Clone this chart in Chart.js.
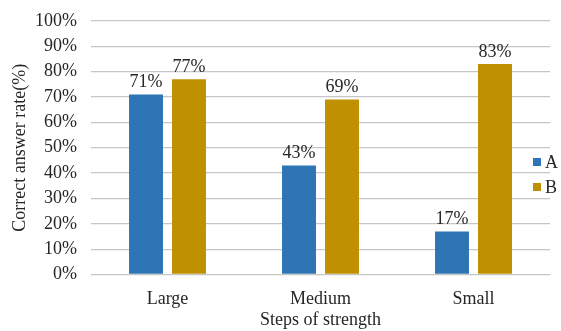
<!DOCTYPE html>
<html>
<head>
<meta charset="utf-8">
<script src="https://cdn.jsdelivr.net/npm/chart.js@4/dist/chart.umd.min.js"></script>
<style>
  html, body { margin: 0; padding: 0; background: #fff; }
  #wrap { position: relative; width: 561px; height: 331px; }
</style>
</head>
<body>
<div id="wrap"><canvas id="c" width="561" height="331"></canvas></div>
<script>
// Correct answer rate by step of strength, two conditions
const categories = ['Large', 'Medium', 'Small'];
const seriesNames = ['A', 'B'];
const seriesA = [71, 43, 17];
const seriesB = [77, 69, 83];
const yTicks = [0, 10, 20, 30, 40, 50, 60, 70, 80, 90, 100];

const FONT = '"Liberation Serif", "Times New Roman", serif';
const TEXT = '#262626';
const colors = ['#2E75B6', '#BF9000'];

// Value labels above each bar
const valueLabels = {
  id: 'valueLabels',
  afterDatasetsDraw(chart) {
    const ctx = chart.ctx;
    ctx.save();
    ctx.font = '18px ' + FONT;
    ctx.fillStyle = TEXT;
    ctx.textAlign = 'center';
    ctx.textBaseline = 'bottom';
    chart.data.datasets.forEach((ds, i) => {
      chart.getDatasetMeta(i).data.forEach((bar, j) => {
        ctx.fillText(ds.data[j] + '%', bar.x, bar.y - 3);
      });
    });
    ctx.restore();
  }
};

// Legend drawn inside the right edge of the plot
const sideLegend = {
  id: 'sideLegend',
  afterDraw(chart) {
    const ctx = chart.ctx;
    const x = 533, y0 = 162, step = 25;
    ctx.save();
    ctx.font = '18px ' + FONT;
    ctx.textBaseline = 'middle';
    ctx.textAlign = 'left';
    chart.data.datasets.forEach((ds, i) => {
      const y = y0 + i * step;
      ctx.fillStyle = ds.backgroundColor;
      ctx.fillRect(x, y - 4, 8, 8);
      ctx.fillStyle = TEXT;
      ctx.fillText(ds.label, x + 12, y + 1);
    });
    ctx.restore();
  }
};

new Chart(document.getElementById('c'), {
  type: 'bar',
  data: {
    labels: categories,
    datasets: [
      { label: seriesNames[0], data: seriesA, backgroundColor: colors[0] },
      { label: seriesNames[1], data: seriesB, backgroundColor: colors[1] }
    ]
  },
  options: {
    responsive: false,
    animation: false,
    devicePixelRatio: 1,
    layout: { padding: { top: 21, right: 11, left: 9, bottom: 0 } },
    datasets: {
      bar: { categoryPercentage: 0.562, barPercentage: 0.79, borderWidth: 0 }
    },
    plugins: {
      legend: { display: false },
      tooltip: { enabled: false }
    },
    scales: {
      x: {
        grid: { display: false },
        border: { display: false },
        ticks: { color: TEXT, font: { family: FONT, size: 18 }, padding: 6 },
        title: {
          display: true, text: 'Steps of strength', color: TEXT,
          font: { family: FONT, size: 18 }, padding: { top: 3, bottom: 0 }
        },
        afterFit(scale) { scale.height = 331 - 274.5; }
      },
      y: {
        min: 0, max: 100,
        afterBuildTicks(scale) { scale.ticks = yTicks.map(v => ({ value: v })); },
        grid: { color: '#c6c6c6', lineWidth: 1.3, drawTicks: false },
        border: { display: false },
        ticks: {
          color: TEXT, font: { family: FONT, size: 18 }, padding: 14,
          callback: v => v + '%'
        },
        title: {
          display: true, text: 'Correct answer rate(%)', color: TEXT,
          font: { family: FONT, size: 18 }, padding: { top: 0, bottom: 4 }
        },
        afterFit(scale) {
          scale.width = 82;
          scale.paddingTop = 0;
          scale.paddingBottom = 0;
        }
      }
    }
  },
  plugins: [valueLabels, sideLegend]
});
</script>
</body>
</html>
